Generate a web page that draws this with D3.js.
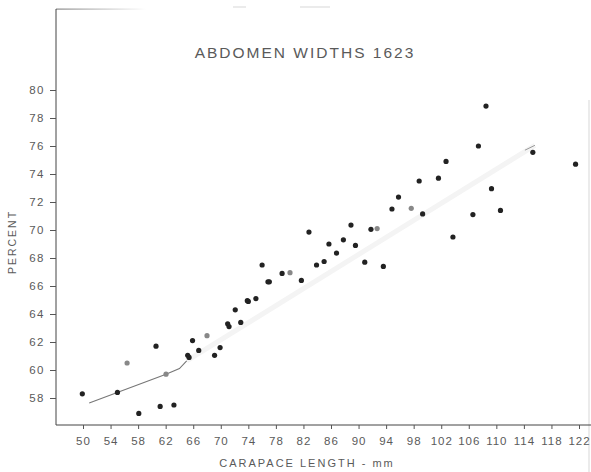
<!DOCTYPE html>
<html>
<head>
<meta charset="utf-8">
<script src="https://cdn.jsdelivr.net/npm/d3@7"></script>
<style>
  html, body { margin: 0; padding: 0; background: #fff; }
  svg { display: block; }
  text { font-family: "Liberation Sans", Arial, sans-serif; fill: #5a5a5a; }
</style>
</head>
<body>
<svg id="chart" width="591" height="472"></svg>
<script>
// Carapace length (mm) and abdomen width (percent) for each specimen
const lengthDark = [49.9, 55.0, 58.1, 60.6, 61.2, 63.2, 65.2, 65.4, 65.9, 66.8,
  69.1, 69.9, 71.0, 71.2, 72.1, 72.9, 73.85, 74.0, 75.1, 76.0, 76.85, 77.05,
  78.9, 81.7, 82.8, 83.9, 85.0, 85.7, 86.8, 87.8, 88.9, 89.55, 90.9, 91.8,
  93.6, 94.85, 95.8, 98.8, 99.3, 101.6, 102.7, 103.7, 106.6, 107.4, 108.5,
  109.3, 110.6, 115.3, 121.5];
const percentDark = [58.3, 58.4, 56.9, 61.7, 57.4, 57.5, 61.05, 60.9, 62.1, 61.4,
  61.05, 61.6, 63.3, 63.1, 64.3, 63.4, 64.95, 64.9, 65.1, 67.5, 66.3, 66.3,
  66.9, 66.4, 69.85, 67.5, 67.75, 69.0, 68.35, 69.3, 70.35, 68.9, 67.7, 70.05,
  67.4, 71.5, 72.35, 73.5, 71.15, 73.7, 74.9, 69.5, 71.1, 76.0, 78.85,
  72.95, 71.4, 75.55, 74.7];

// Specimens printed in a lighter ink
const lengthLight = [56.4, 62.05, 68.0, 80.05, 92.7, 97.65];
const percentLight = [60.5, 59.7, 62.45, 66.95, 70.1, 71.55];

// Fitted growth line: lower (drawn) part and its faint upper continuation
const fitLowLength = [50.9, 62.05, 64.0, 65.05];
const fitLowPercent = [57.65, 59.7, 60.1, 60.65];
const fitHighLength = [65.05, 115.6];
const fitHighPercent = [60.65, 76.05];

const xTicks = [50, 54, 58, 62, 66, 70, 74, 78, 82, 86, 90, 94, 98, 102, 106, 110, 114, 118, 122];
const yTicks = [58, 60, 62, 64, 66, 68, 70, 72, 74, 76, 78, 80];

const svg = d3.select("#chart");
const x = d3.scaleLinear().domain([50, 122]).range([83, 579]);
const y = d3.scaleLinear().domain([58, 80]).range([398, 90]);

const axisLeftX = 56, axisBottomY = 425, axisTopY = 9;

// Frame: top edge (faded), left axis, bottom axis
const grad = svg.append("defs").append("linearGradient").attr("id", "fadeTop")
  .attr("x1", "0").attr("x2", "1").attr("y1", "0").attr("y2", "0");
grad.append("stop").attr("offset", "0").attr("stop-color", "#888");
grad.append("stop").attr("offset", "1").attr("stop-color", "#fff");
svg.append("rect").attr("x", axisLeftX).attr("y", axisTopY - 0.5)
  .attr("width", 90).attr("height", 1.2).attr("fill", "url(#fadeTop)");
svg.append("line").attr("x1", 233).attr("x2", 246).attr("y1", 7).attr("y2", 7)
  .attr("stroke", "#ddd").attr("stroke-width", 1.2);
svg.append("line").attr("x1", 300).attr("x2", 330).attr("y1", 7).attr("y2", 7)
  .attr("stroke", "#ddd").attr("stroke-width", 1.2);
svg.append("line").attr("x1", 589).attr("x2", 589).attr("y1", 100).attr("y2", 472)
  .attr("stroke", "#e4e4e4").attr("stroke-width", 1.5);

svg.append("line").attr("x1", axisLeftX).attr("x2", axisLeftX)
  .attr("y1", axisTopY).attr("y2", axisBottomY)
  .attr("stroke", "#444").attr("stroke-width", 1);
svg.append("line").attr("x1", axisLeftX).attr("x2", 591)
  .attr("y1", axisBottomY).attr("y2", axisBottomY)
  .attr("stroke", "#444").attr("stroke-width", 1);

// Y axis
const yAxis = d3.axisLeft(y).tickValues(yTicks).tickSize(6).tickPadding(5).tickFormat(d3.format("d"));
const gy = svg.append("g").attr("transform", `translate(${axisLeftX},0)`).call(yAxis);
gy.select(".domain").remove();
gy.selectAll(".tick line").attr("stroke", "#555");
gy.selectAll(".tick text").style("font-size", "11.5px").style("letter-spacing", "1.5px")
  .style("font-family", "Liberation Sans, Arial, sans-serif").attr("fill", "#5a5a5a");

// X axis
const xAxis = d3.axisBottom(x).tickValues(xTicks).tickSize(4).tickPadding(8).tickFormat(d3.format("d"));
const gx = svg.append("g").attr("transform", `translate(0,${axisBottomY})`).call(xAxis);
gx.select(".domain").remove();
gx.selectAll(".tick line").attr("stroke", "#555");
gx.selectAll(".tick text").style("font-size", "11.5px").style("letter-spacing", "1px")
  .style("font-family", "Liberation Sans, Arial, sans-serif").attr("fill", "#5a5a5a");

// Titles
svg.append("text").attr("x", 305).attr("y", 58).attr("text-anchor", "middle")
  .style("font-size", "15.5px").style("letter-spacing", "2px").attr("fill", "#5a5a5a")
  .text("ABDOMEN WIDTHS 1623");
svg.append("text").attr("transform", "translate(16,242) rotate(-90)")
  .attr("text-anchor", "middle").style("font-size", "10.5px").style("letter-spacing", "2px")
  .attr("fill", "#5a5a5a").text("PERCENT");
svg.append("text").attr("x", 307).attr("y", 467).attr("text-anchor", "middle")
  .style("font-size", "11px").style("letter-spacing", "2px").attr("fill", "#5a5a5a")
  .text("CARAPACE LENGTH - mm");

// Fitted line
const line = d3.line().x(d => x(d[0])).y(d => y(d[1]));
svg.append("path").datum(d3.zip(fitHighLength, fitHighPercent)).attr("d", line)
  .attr("fill", "none").attr("stroke", "#f4f4f4").attr("stroke-width", 5);
svg.append("path").datum(d3.zip(fitLowLength, fitLowPercent)).attr("d", line)
  .attr("fill", "none").attr("stroke", "#777").attr("stroke-width", 1.1);
svg.append("path").datum([[114.15, 75.7], [115.6, 76.05]]).attr("d", line)
  .attr("fill", "none").attr("stroke", "#999").attr("stroke-width", 1);

// Specimens
svg.append("g").selectAll("circle").data(d3.zip(lengthLight, percentLight)).join("circle")
  .attr("cx", d => x(d[0])).attr("cy", d => y(d[1])).attr("r", 2.6).attr("fill", "#888");
svg.append("g").selectAll("circle").data(d3.zip(lengthDark, percentDark)).join("circle")
  .attr("cx", d => x(d[0])).attr("cy", d => y(d[1])).attr("r", 2.6).attr("fill", "#222");
</script>
</body>
</html>
